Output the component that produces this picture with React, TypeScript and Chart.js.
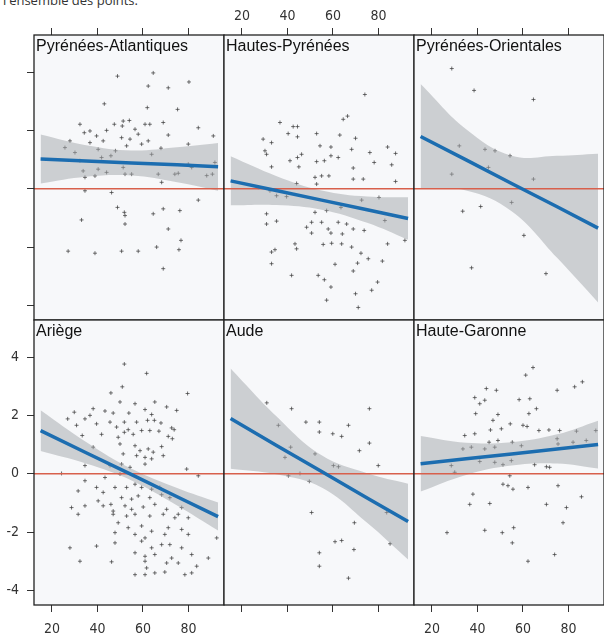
import React, { useEffect, useRef } from "react";
import { Chart, registerables } from "chart.js";

Chart.register(...registerables);

// ---------- data ----------
const PANEL_NAMES = [
  "Pyrénées-Atlantiques",
  "Hautes-Pyrénées",
  "Pyrénées-Orientales",
  "Ariège",
  "Aude",
  "Haute-Garonne",
];
const X_TICKS = [20, 40, 60, 80];
const Y_TICKS = [-4, -2, 0, 2, 4];
const X_RANGE = [12.1, 95.6];
const Y_RANGE = [-4.5, 5.27];
const REF_Y = 0;
const FIT_X = [15, 35, 55, 75, 93];

const PTS_PA: [number, number][] = [
  [48.8, 3.86], [64.5, 3.97], [62.3, 3.52], [71.1, 3.46], [80.2, 3.66], [43.0, 2.91], [75.2, 2.72], [61.9, 2.78],
  [32.3, 2.21], [51.3, 2.32], [54.0, 2.34], [63.0, 2.21], [68.9, 2.27], [84.3, 2.09], [90.9, 1.81], [34.2, 1.92],
  [36.7, 1.98], [44.0, 2.0], [47.4, 2.21], [50.9, 2.15], [56.5, 2.04], [57.9, 1.87], [60.9, 2.21], [71.1, 1.84],
  [27.9, 1.64], [39.6, 1.81], [42.5, 1.64], [50.6, 1.75], [54.3, 1.7], [59.4, 1.53], [62.3, 1.64], [25.7, 1.41],
  [30.1, 1.24], [36.7, 1.58], [40.3, 1.35], [47.9, 1.3], [52.8, 1.47], [63.8, 1.18], [79.9, 1.53], [67.9, 1.39],
  [41.8, 1.07], [45.9, 1.13], [32.3, 0.96], [40.3, 0.67], [44.0, 0.56], [51.3, 0.73], [52.1, 0.5], [55.0, 0.5],
  [34.5, 0.39], [38.9, 0.44], [33.7, 0.61], [66.7, 0.5], [74.0, 0.5], [75.5, 0.53], [68.2, 0.22], [79.9, 0.84],
  [81.4, 0.73], [91.6, 0.9], [34.5, -0.07], [46.2, -0.13], [84.3, -0.39], [48.8, -0.64], [51.8, -0.81], [52.1, -0.92],
  [64.5, -0.86], [68.9, -0.69], [76.2, -0.75], [33.0, -1.07], [52.1, -1.21], [71.1, -1.38], [76.7, -1.77], [27.1, -2.14],
  [38.9, -2.21], [50.6, -2.14], [57.9, -2.14], [66.0, -2.0], [75.8, -2.09], [68.9, -2.74], [88.0, 0.45], [90.5, 0.5],
];
const PTS_HP: [number, number][] = [
  [74.0, 3.23], [64.5, 2.38], [66.4, 2.49], [36.7, 2.27], [42.5, 2.13], [44.4, 2.13], [40.3, 1.89], [52.8, 1.89],
  [63.0, 1.84], [69.9, 1.73], [44.4, 1.78], [29.3, 1.7], [33.0, 1.58], [54.3, 1.47], [59.1, 1.43], [68.2, 1.35],
  [76.2, 1.24], [84.0, 1.43], [87.5, 1.21], [30.1, 1.3], [30.8, 1.18], [46.2, 1.18], [44.4, 1.07], [59.1, 1.13],
  [62.3, 1.07], [41.1, 0.96], [56.2, 0.96], [52.8, 0.93], [78.1, 0.9], [85.8, 0.82], [68.9, 0.71], [33.0, 0.75],
  [45.0, 0.75], [52.1, 0.39], [55.0, 0.44], [58.2, 0.44], [68.9, 0.33], [73.3, 0.33], [87.5, 0.25], [52.8, 0.16],
  [44.0, 0.18], [27.2, 0.05], [32.3, -0.07], [35.2, -0.24], [39.6, -0.27], [63.5, -0.64], [72.6, -0.39], [80.2, -0.3],
  [30.8, -0.86], [30.8, -1.21], [35.2, -1.11], [52.1, -0.81], [57.2, -0.75], [50.6, -1.15], [55.0, -1.15], [62.3, -1.15],
  [66.0, -1.21], [48.4, -1.32], [50.6, -1.52], [57.9, -1.38], [59.1, -1.52], [64.1, -1.55], [68.9, -1.38], [73.7, -1.43],
  [82.8, -1.09], [43.3, -1.89], [55.7, -1.91], [59.4, -1.87], [63.8, -1.89], [68.2, -2.0], [84.0, -1.89], [91.6, -1.77],
  [33.0, -2.17], [34.5, -2.09], [33.0, -2.57], [44.0, -2.06], [72.3, -2.21], [75.5, -2.4], [81.7, -2.48], [60.9, -2.59],
  [70.8, -2.55], [68.9, -2.82], [41.8, -2.97], [53.5, -2.97], [56.2, -3.12], [59.1, -3.37], [79.6, -3.2], [77.0, -3.48],
  [69.9, -3.6], [57.2, -3.82], [71.1, -4.07],
];
const PTS_PO: [number, number][] = [
  [28.7, 4.12], [38.5, 3.37], [64.6, 3.06], [32.0, 1.47], [43.3, 1.35], [47.7, 1.3], [54.3, 1.13], [44.8, 0.73],
  [28.7, 0.5], [64.6, 0.33], [55.0, -0.47], [41.4, -0.61], [33.5, -0.77], [60.4, -1.6], [37.4, -2.71], [70.1, -2.91],
];
const PTS_AR: [number, number][] = [
  [51.8, 3.76], [61.6, 3.44], [79.6, 2.75], [45.9, 2.77], [50.9, 2.98], [56.5, 2.4], [65.2, 2.46], [70.4, 2.29],
  [74.8, 2.17], [49.9, 2.46], [38.1, 2.23], [43.3, 2.15], [46.9, 2.08], [53.8, 2.08], [60.9, 2.2], [63.8, 2.03],
  [29.8, 2.11], [26.9, 1.88], [34.5, 1.88], [36.7, 2.0], [30.8, 1.66], [39.6, 1.71], [45.5, 1.77], [48.4, 1.6],
  [51.8, 1.77], [53.5, 1.51], [57.2, 1.77], [62.0, 1.83], [65.0, 1.83], [67.9, 1.74], [72.6, 1.57], [73.7, 1.51],
  [33.3, 1.31], [41.8, 1.35], [49.1, 1.25], [51.8, 1.42], [55.7, 1.35], [59.4, 1.48], [63.0, 1.48], [67.0, 1.46],
  [71.1, 1.28], [72.9, 1.2], [49.9, 1.02], [56.5, 0.96], [58.7, 0.79], [62.3, 0.85], [64.5, 0.74], [68.2, 0.93],
  [38.1, 0.91], [51.3, 0.68], [57.2, 0.62], [60.9, 0.56], [63.8, 0.51], [68.9, 0.62], [34.5, 0.28], [45.5, 0.28],
  [50.6, 0.33], [54.3, 0.22], [60.9, 0.33], [24.2, 0.01], [79.2, 0.16], [84.3, -0.07], [43.3, -0.13], [49.9, -0.01],
  [34.5, -0.24], [39.6, -0.47], [42.5, -0.64], [47.7, -0.47], [52.8, -0.47], [56.5, -0.36], [59.4, -0.47], [63.8, -0.53],
  [67.4, -0.47], [31.5, -0.59], [40.3, -0.93], [45.9, -1.05], [50.6, -0.82], [55.0, -0.87], [57.9, -0.76], [63.0, -0.82],
  [68.2, -0.72], [71.8, -0.82], [28.6, -1.16], [34.5, -1.1], [42.5, -1.1], [46.9, -1.28], [52.1, -1.1], [55.0, -1.22],
  [60.1, -1.14], [65.2, -1.05], [70.4, -1.22], [75.5, -1.39], [77.0, -1.16], [79.9, -1.51], [31.5, -1.39], [46.9, -1.39],
  [52.8, -1.45], [56.5, -1.39], [63.0, -1.45], [68.9, -1.39], [74.0, -1.51], [49.1, -1.68], [53.5, -1.85], [59.4, -1.79],
  [63.8, -1.97], [71.1, -1.85], [77.0, -1.91], [47.7, -2.02], [56.5, -2.08], [60.9, -2.2], [69.6, -2.08], [79.9, -2.08],
  [92.4, -2.2], [27.9, -2.54], [39.6, -2.48], [47.7, -2.37], [59.4, -2.31], [63.8, -2.54], [68.2, -2.43], [71.8, -2.43],
  [77.0, -2.54], [56.5, -2.71], [60.9, -2.83], [65.2, -2.77], [72.6, -2.89], [81.4, -2.77], [88.7, -2.89], [32.3, -3.0],
  [46.2, -3.02], [60.9, -3.0], [61.6, -3.23], [70.4, -3.06], [75.5, -3.06], [60.9, -3.46], [69.6, -3.37], [78.4, -3.46],
  [81.4, -3.4], [83.6, -3.17], [56.5, -3.46], [65.2, -3.4],
];
const PTS_AU: [number, number][] = [
  [30.9, 2.43], [41.8, 2.23], [76.0, 2.23], [36.0, 1.66], [48.1, 1.77], [54.0, 1.77], [66.8, 1.66], [54.0, 1.43],
  [59.9, 1.37], [63.8, 1.28], [76.0, 1.05], [71.6, 0.79], [52.1, 0.68], [38.9, 0.56], [41.4, 0.91], [60.2, 0.28],
  [62.4, 0.24], [79.9, 0.28], [40.4, -0.07], [45.5, 0.01], [49.6, -0.26], [50.6, -1.33], [83.6, -1.33], [69.4, -1.68],
  [60.9, -2.33], [63.8, -2.29], [69.2, -2.6], [54.0, -2.71], [54.0, -3.17], [66.8, -3.58], [85.1, -2.4],
];
const PTS_HG: [number, number][] = [
  [64.4, 3.64], [61.2, 3.38], [86.1, 3.15], [82.7, 2.98], [43.9, 2.92], [48.3, 2.86], [75.0, 2.86], [38.8, 2.61],
  [43.2, 2.52], [41.0, 2.4], [58.3, 2.54], [63.0, 2.57], [65.9, 2.23], [39.2, 2.06], [62.6, 2.06], [49.0, 2.03],
  [46.8, 1.83], [54.4, 1.71], [45.7, 1.5], [50.5, 1.54], [60.0, 1.66], [61.8, 1.62], [67.0, 1.48], [71.4, 1.5],
  [76.1, 1.48], [83.5, 1.46], [92.0, 1.48], [34.4, 1.31], [38.8, 1.37], [75.0, 1.2], [49.0, 1.14], [45.1, 1.08],
  [55.3, 1.08], [33.6, 0.85], [37.3, 0.91], [43.2, 0.85], [47.6, 0.91], [59.3, 0.96], [75.4, 1.02], [82.0, 1.08],
  [87.8, 1.14], [41.0, 0.42], [47.6, 0.39], [51.2, 0.31], [54.9, 0.45], [65.1, 0.31], [71.7, 0.22], [70.3, 0.24],
  [28.5, 0.28], [30.0, 0.05], [54.2, -0.07], [51.2, -0.36], [53.4, -0.41], [55.6, -0.53], [62.2, -0.47], [75.4, -0.41],
  [38.0, -0.7], [36.6, -1.05], [45.4, -1.02], [70.3, -1.05], [79.1, -1.16], [85.7, -0.79], [77.6, -1.68], [26.6, -2.02],
  [43.2, -1.94], [50.9, -2.02], [55.9, -1.85], [55.3, -2.37], [73.9, -2.77], [62.2, -3.0],
];

// fitted line and confidence band, read at FIT_X
const FIT_PA = [1.02, 0.95, 0.88, 0.82, 0.75];
const LO_PA = [0.18, 0.41, 0.45, 0.22, -0.07];
const HI_PA = [1.86, 1.49, 1.31, 1.42, 1.57];
const FIT_HP = [0.27, -0.06, -0.39, -0.72, -1.02];
const LO_HP = [-0.57, -0.56, -0.72, -1.17, -1.75];
const HI_HP = [1.11, 0.44, -0.06, -0.27, -0.29];
const FIT_PO = [1.79, 0.99, 0.18, -0.62, -1.35];
const LO_PO = [-0.01, -0.06, -0.77, -2.37, -3.9];
const HI_PO = [3.59, 2.04, 1.13, 1.13, 1.2];
const FIT_AR = [1.48, 0.72, -0.03, -0.79, -1.47];
const LO_AR = [0.78, 0.35, -0.23, -1.09, -1.95];
const HI_AR = [2.18, 1.09, 0.17, -0.49, -0.99];
const FIT_AU = [1.89, 0.98, 0.08, -0.83, -1.64];
const LO_AU = [0.17, -0.02, -0.47, -1.68, -2.94];
const HI_AU = [3.61, 1.98, 0.63, 0.02, -0.34];
const FIT_HG = [0.34, 0.51, 0.68, 0.85, 1.0];
const LO_HG = [-0.61, -0.04, 0.28, 0.35, 0.18];
const HI_HG = [1.29, 1.06, 1.08, 1.35, 1.82];

const PANEL_POINTS = [PTS_PA, PTS_HP, PTS_PO, PTS_AR, PTS_AU, PTS_HG];
const PANEL_FIT = [FIT_PA, FIT_HP, FIT_PO, FIT_AR, FIT_AU, FIT_HG];
const PANEL_LO = [LO_PA, LO_HP, LO_PO, LO_AR, LO_AU, LO_HG];
const PANEL_HI = [HI_PA, HI_HP, HI_PO, HI_AR, HI_AU, HI_HG];

// ---------- layout / style ----------
const COL_LEFT = [34, 224, 414];
const ROW_TOP = [35, 320];
const PW = 190;
const PH = 285;
const Y_AXIS_W = 34;
const TOP_AXIS_H = 35;
const BOT_AXIS_H = 32;

const LINE_COLOR = "#1c6db0";
const RED = "#d8604c";
const BAND = "rgba(165,168,173,0.52)";
const PT_COLOR = "rgba(60,60,60,0.72)";
const PANEL_BG = "#f7f8fa";
const TICK_FONT_FAMILY = '"Liberation Sans Narrow", "DejaVu Sans Condensed", "Liberation Sans", Arial, sans-serif';

const panelPlugin = {
  id: "panelDeco",
  beforeDraw(chart: any) {
    const { ctx, chartArea: a } = chart;
    ctx.save();
    ctx.fillStyle = PANEL_BG;
    ctx.fillRect(a.left, a.top, a.right - a.left, a.bottom - a.top);
    ctx.restore();
  },
  afterDraw(chart: any, _args: any, opts: any) {
    const { ctx, chartArea: a } = chart;
    ctx.save();
    ctx.strokeStyle = "#222";
    ctx.lineWidth = 1.3;
    ctx.strokeRect(a.left, a.top, a.right - a.left, a.bottom - a.top);
    ctx.fillStyle = "#111";
    ctx.font = '16px "Liberation Sans", Arial, sans-serif';
    ctx.textBaseline = "alphabetic";
    ctx.textAlign = "left";
    ctx.fillText(opts.label, a.left + 2, a.top + 16);
    ctx.restore();
  },
};

function zeroPadding(s: any) {
  s.paddingTop = 0;
  s.paddingBottom = 0;
  s.paddingLeft = 0;
  s.paddingRight = 0;
}

function Panel({ idx }: { idx: number }) {
  const ref = useRef<HTMLCanvasElement>(null);
  const r = Math.floor(idx / 3);
  const c = idx % 3;
  const padL = c === 0 ? Y_AXIS_W : 2;
  const padR = 2;
  const padT = r === 0 ? TOP_AXIS_H : 2;
  const padB = r === 1 ? BOT_AXIS_H : 2;
  const W = PW + padL + padR;
  const H = PH + padT + padB;
  const left = COL_LEFT[c] - padL;
  const top = ROW_TOP[r] - padT;

  useEffect(() => {
    const fit = PANEL_FIT[idx];
    const lo = PANEL_LO[idx];
    const hi = PANEL_HI[idx];
    const pts = PANEL_POINTS[idx];
    const showXLabels = (r === 0 && c === 1) || (r === 1 && c !== 1);
    const showYLabels = c === 0 && r === 1;

    const chart = new Chart(ref.current as HTMLCanvasElement, {
      type: "scatter",
      data: {
        datasets: [
          {
            type: "line",
            data: FIT_X.map((x, i) => ({ x, y: fit[i] })),
            borderColor: LINE_COLOR,
            borderWidth: 3.5,
            pointRadius: 0,
            fill: false,
            order: 0,
          },
          {
            type: "line",
            data: X_RANGE.map((x) => ({ x, y: REF_Y })),
            borderColor: RED,
            borderWidth: 1.3,
            pointRadius: 0,
            fill: false,
            order: 1,
          },
          {
            type: "line",
            data: FIT_X.map((x, i) => ({ x, y: lo[i] })),
            borderWidth: 0,
            borderColor: "rgba(0,0,0,0)",
            pointRadius: 0,
            fill: false,
            tension: 0.4,
            order: 3,
          },
          {
            type: "line",
            data: FIT_X.map((x, i) => ({ x, y: hi[i] })),
            borderWidth: 0,
            borderColor: "rgba(0,0,0,0)",
            backgroundColor: BAND,
            pointRadius: 0,
            fill: "-1",
            tension: 0.4,
            order: 2,
          },
          {
            type: "scatter",
            data: pts.map(([x, y]) => ({ x, y })),
            pointStyle: "cross",
            pointRadius: 2,
            borderColor: PT_COLOR,
            backgroundColor: PT_COLOR,
            borderWidth: 1,
            order: 4,
          },
        ] as any,
      },
      options: {
        responsive: false,
        animation: false,
        events: [],
        layout: {
          autoPadding: false,
          padding: {
            left: c === 0 ? 0 : 2,
            right: padR,
            top: r === 0 ? 0 : 2,
            bottom: r === 1 ? 0 : 2,
          },
        },
        plugins: {
          legend: { display: false },
          tooltip: { enabled: false },
          panelDeco: { label: PANEL_NAMES[idx] },
        } as any,
        scales: {
          x: {
            type: "linear",
            position: r === 0 ? "top" : "bottom",
            min: X_RANGE[0],
            max: X_RANGE[1],
            afterBuildTicks: (s: any) => {
              s.ticks = X_TICKS.map((v) => ({ value: v }));
            },
            afterFit: (s: any) => {
              s.height = r === 0 ? TOP_AXIS_H : BOT_AXIS_H;
              zeroPadding(s);
            },
            grid: { drawOnChartArea: false, drawTicks: true, tickLength: 7, color: "#333", lineWidth: 1 },
            border: { display: false },
            ticks: {
              display: showXLabels,
              padding: r === 0 ? 3 : 9,
              color: "#333",
              font: { family: TICK_FONT_FAMILY, size: 14 },
              maxRotation: 0,
            },
          },
          y: {
            type: "linear",
            display: c === 0,
            position: "left",
            min: Y_RANGE[0],
            max: Y_RANGE[1],
            afterBuildTicks: (s: any) => {
              s.ticks = Y_TICKS.map((v) => ({ value: v }));
            },
            afterFit: (s: any) => {
              s.width = c === 0 ? Y_AXIS_W : 0;
              zeroPadding(s);
            },
            grid: { drawOnChartArea: false, drawTicks: true, tickLength: 7, color: "#333", lineWidth: 1 },
            border: { display: false },
            ticks: {
              display: showYLabels,
              padding: 8,
              color: "#333",
              font: { family: TICK_FONT_FAMILY, size: 14 },
            },
          },
        },
      } as any,
      plugins: [panelPlugin as any],
    });
    return () => chart.destroy();
  }, [idx]);

  return (
    <canvas
      ref={ref}
      width={W}
      height={H}
      style={{ position: "absolute", left, top, width: W, height: H }}
    />
  );
}

export default function App() {
  return (
    <div
      style={{
        position: "fixed",
        left: 0,
        top: 0,
        width: 604,
        height: 637,
        overflow: "hidden",
        background: "#ffffff",
      }}
    >
      <div
        style={{
          position: "absolute",
          left: 3,
          top: -9,
          fontFamily: '"Open Sans", "Liberation Sans", sans-serif',
          fontSize: 13,
          color: "#333",
          whiteSpace: "nowrap",
        }}
      >
        l'ensemble des points.
      </div>
      {[0, 1, 2, 3, 4, 5].map((i) => (
        <Panel key={i} idx={i} />
      ))}
    </div>
  );
}
